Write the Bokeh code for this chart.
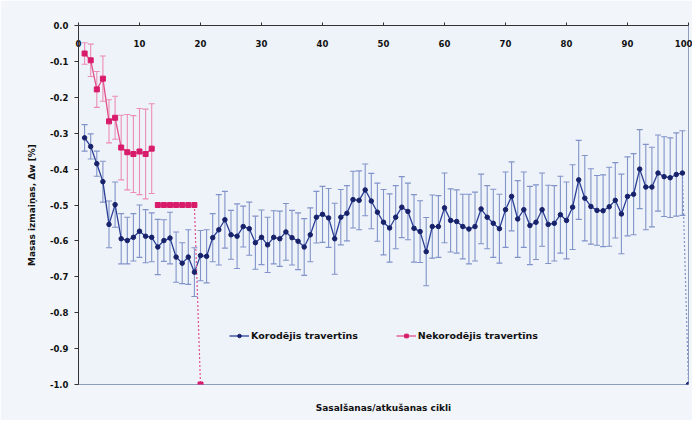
from bokeh.plotting import figure
from bokeh.models import (ColumnDataSource, Whisker, TeeHead, LinearAxis, FixedTicker,
                          Range1d, Legend, LegendItem, NumeralTickFormatter)
from bokeh.embed import file_html
from bokeh.resources import INLINE

# ---------------- data ----------------
cycles_k = list(range(1, 101))
korodejis = [
    -0.313, -0.337, -0.385, -0.435, -0.554, -0.499, -0.594, -0.599, -0.590, -0.573,
    -0.587, -0.590, -0.617, -0.599, -0.592, -0.645, -0.662, -0.645, -0.687, -0.641,
    -0.643, -0.591, -0.569, -0.541, -0.583, -0.587, -0.560, -0.566, -0.605, -0.590,
    -0.611, -0.590, -0.594, -0.575, -0.591, -0.601, -0.617, -0.583, -0.534, -0.526,
    -0.536, -0.594, -0.534, -0.523, -0.485, -0.487, -0.458, -0.489, -0.520, -0.548,
    -0.564, -0.534, -0.506, -0.518, -0.565, -0.574, -0.630, -0.560, -0.560, -0.508,
    -0.543, -0.546, -0.560, -0.567, -0.560, -0.511, -0.534, -0.551, -0.566, -0.513,
    -0.476, -0.539, -0.513, -0.557, -0.548, -0.513, -0.554, -0.551, -0.527, -0.543,
    -0.506, -0.430, -0.481, -0.504, -0.515, -0.516, -0.505, -0.487, -0.525, -0.476,
    -0.470, -0.400, -0.450, -0.450, -0.411, -0.421, -0.424, -0.415, -0.411, -1.000,
]
korodejis_err = [
    0.037, 0.035, 0.035, 0.057, 0.065, 0.063, 0.070, 0.065, 0.066, 0.073,
    0.074, 0.068, 0.077, 0.058, 0.072, 0.070, 0.057, 0.076, 0.068, 0.070,
    0.074, 0.067, 0.098, 0.079, 0.068, 0.090, 0.057, 0.074, 0.074, 0.076,
    0.077, 0.074, 0.077, 0.079, 0.076, 0.079, 0.079, 0.075, 0.072, 0.078,
    0.082, 0.099, 0.077, 0.077, 0.079, 0.082, 0.072, 0.077, 0.081, 0.091,
    0.095, 0.088, 0.085, 0.079, 0.094, 0.086, 0.095, 0.088, 0.086, 0.097,
    0.088, 0.088, 0.090, 0.097, 0.096, 0.097, 0.088, 0.095, 0.096, 0.105,
    0.096, 0.107, 0.105, 0.109, 0.104, 0.102, 0.109, 0.105, 0.107, 0.107,
    0.118, 0.110, 0.119, 0.105, 0.097, 0.100, 0.110, 0.105, 0.111, 0.110,
    0.113, 0.110, 0.119, 0.111, 0.106, 0.111, 0.111, 0.116, 0.118,
]
cycles_n = list(range(1, 21))
nekorodejis = [
    -0.078, -0.097, -0.178, -0.148, -0.267, -0.257, -0.340, -0.353, -0.358, -0.351,
    -0.358, -0.343, -0.500, -0.500, -0.500, -0.500, -0.500, -0.500, -0.500, -1.000,
]
nekorodejis_err = [0.030, 0.045, 0.050, 0.063, 0.060, 0.060, 0.090, 0.105, 0.107, 0.120,
                   0.125, 0.125]
x_ticks = [0, 10, 20, 30, 40, 50, 60, 70, 80, 90, 100]
y_ticks = [0.0, -0.1, -0.2, -0.3, -0.4, -0.5, -0.6, -0.7, -0.8, -0.9, -1.0]
label_k = "Korodējis travertīns"
label_n = "Nekorodējis travertīns"

# ---------------- style ----------------
FONT = "DejaVu Sans"
TXT = "#111111"
BLUE_LINE = "#2b3f95"
BLUE_MARK = "#17226b"
BLUE_ERR = "#8193c9"
PINK_LINE = "#e2508c"
PINK_MARK = "#d81b6a"
PINK_ERR = "#eb8db4"

p = figure(width=692, height=420, x_range=Range1d(0, 100), y_range=Range1d(-1.0, 0.0),
           output_backend="svg", toolbar_location=None,
           x_axis_location=None, y_axis_location=None,
           min_border_left=78, min_border_right=4, min_border_top=25, min_border_bottom=36)
p.grid.visible = False
p.background_fill_color = "#eef3f9"
p.border_fill_color = "#f2f5f9"
p.outline_line_color = "#8e9cc0"
p.outline_line_width = 1

# axes
yax = LinearAxis(ticker=FixedTicker(ticks=y_ticks), formatter=NumeralTickFormatter(format="0.0"))
yax.axis_label = "Masas izmaiņas, Δw [%]"
yax.axis_label_text_font = FONT
yax.axis_label_text_font_style = "bold"
yax.axis_label_text_font_size = "9px"
yax.axis_label_text_color = TXT
yax.axis_label_standoff = 10
yax.major_label_text_font = FONT
yax.major_label_text_font_style = "bold"
yax.major_label_text_font_size = "8.5px"
yax.major_label_text_color = TXT
yax.major_label_standoff = 6
yax.major_tick_out = 4
yax.major_tick_in = 0
yax.minor_tick_out = 0
yax.minor_tick_in = 0
yax.axis_line_color = "#333333"
yax.major_tick_line_color = "#333333"
p.add_layout(yax, "left")

xax = LinearAxis(ticker=FixedTicker(ticks=x_ticks))
xax.major_label_text_font = FONT
xax.major_label_text_font_style = "bold"
xax.major_label_text_font_size = "8.5px"
xax.major_label_text_color = TXT
xax.major_label_standoff = -24
xax.major_tick_out = 3
xax.major_tick_in = 0
xax.minor_tick_out = 0
xax.minor_tick_in = 0
xax.axis_line_color = "#333333"
xax.major_tick_line_color = "#333333"
p.add_layout(xax, "above")

xlab = LinearAxis(ticker=FixedTicker(ticks=[]))
xlab.axis_line_color = None
xlab.major_tick_line_color = None
xlab.minor_tick_line_color = None
xlab.axis_label = "Sasalšanas/atkušanas cikli"
xlab.axis_label_text_font = FONT
xlab.axis_label_text_font_style = "bold"
xlab.axis_label_text_font_size = "9px"
xlab.axis_label_text_color = TXT
xlab.axis_label_standoff = 18
p.add_layout(xlab, "below")

# error bars
src_ke = ColumnDataSource(dict(
    x=cycles_k[:len(korodejis_err)],
    upper=[v + e for v, e in zip(korodejis, korodejis_err)],
    lower=[v - e for v, e in zip(korodejis, korodejis_err)],
))
wk = Whisker(source=src_ke, base="x", upper="upper", lower="lower", dimension="height",
             line_color=BLUE_ERR, line_width=1.1,
             upper_head=TeeHead(size=6, line_color=BLUE_ERR, line_width=1.1),
             lower_head=TeeHead(size=6, line_color=BLUE_ERR, line_width=1.1))
p.add_layout(wk)

src_ne = ColumnDataSource(dict(
    x=cycles_n[:len(nekorodejis_err)],
    upper=[v + e for v, e in zip(nekorodejis, nekorodejis_err)],
    lower=[v - e for v, e in zip(nekorodejis, nekorodejis_err)],
))
wn = Whisker(source=src_ne, base="x", upper="upper", lower="lower", dimension="height",
             line_color=PINK_ERR, line_width=1.1,
             upper_head=TeeHead(size=6, line_color=PINK_ERR, line_width=1.1),
             lower_head=TeeHead(size=6, line_color=PINK_ERR, line_width=1.1))
p.add_layout(wn)

# lines
nk = len(korodejis_err)
lk = p.line(cycles_k[:nk], korodejis[:nk], line_color=BLUE_LINE, line_width=1.3)
p.line(cycles_k[nk - 1:], korodejis[nk - 1:], line_color=BLUE_ERR, line_width=1.2,
       line_dash="2 2")
nn = len(nekorodejis_err)
ln = p.line(cycles_n[:nn], nekorodejis[:nn], line_color=PINK_LINE, line_width=1.3)
p.line(cycles_n[nn:-1], nekorodejis[nn:-1], line_color=PINK_LINE, line_width=1.3)
p.line(cycles_n[-2:], nekorodejis[-2:], line_color=PINK_LINE, line_width=1.2,
       line_dash="2 2")

# markers
mk = p.scatter(cycles_k, korodejis, marker="circle", size=4.5, fill_color=BLUE_MARK,
               line_color=BLUE_MARK)
mn = p.scatter(cycles_n, nekorodejis, marker="square", size=5, fill_color=PINK_MARK,
               line_color=PINK_MARK)

legend = Legend(items=[LegendItem(label=label_k, renderers=[lk, mk]),
                       LegendItem(label=label_n, renderers=[ln, mn])],
                location=(151, 43), orientation="horizontal")
legend.background_fill_alpha = 0
legend.border_line_color = None
legend.label_text_font = FONT
legend.label_text_font_style = "bold"
legend.label_text_font_size = "9.5px"
legend.label_text_color = TXT
legend.glyph_width = 20
legend.glyph_height = 9
legend.label_height = 12
legend.spacing = 38
legend.label_standoff = 2
p.add_layout(legend)

html = file_html(p, INLINE)
with open("out.html", "w") as f:
    f.write(html)
